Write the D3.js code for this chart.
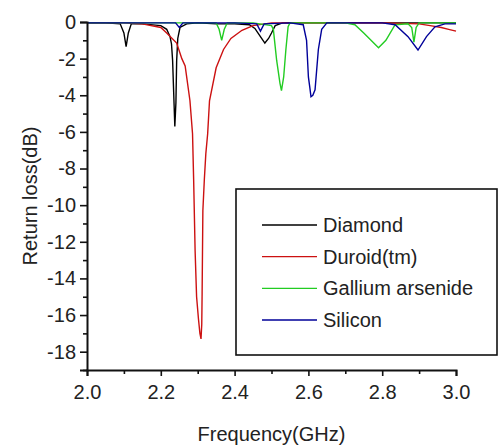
<!DOCTYPE html>
<html><head><meta charset="utf-8">
<script src="https://cdn.jsdelivr.net/npm/d3@7"></script>
<style>
body{margin:0;background:#fff;}
svg text{font-family:"Liberation Sans",Arial,sans-serif;fill:#222;}
</style></head>
<body><svg id="c" width="499" height="448"></svg>
<script>
// ---- data (frequency in GHz, return loss in dB) ----
const diamondFreq = [2.0,2.05,2.09,2.1,2.106,2.112,2.12,2.15,2.2,2.216,2.225,2.229,2.232,2.236,2.238,2.241,2.243,2.246,2.252,2.27,2.3,2.35,2.4,2.44,2.455,2.47,2.482,2.492,2.5,2.51,2.53,2.6,2.7,2.8,2.9,3.0];
const diamondVal  = [-0.05,-0.05,-0.1,-0.6,-1.35,-0.6,-0.1,-0.1,-0.2,-0.4,-0.8,-1.2,-2.1,-4.5,-5.7,-4.4,-2.1,-0.9,-0.3,-0.1,-0.05,-0.1,-0.1,-0.15,-0.35,-0.8,-1.15,-0.9,-0.6,-0.2,-0.05,-0.05,-0.05,-0.05,-0.05,-0.05];

const duroidFreq = [2.0,2.1,2.15,2.2,2.216,2.243,2.257,2.266,2.279,2.286,2.289,2.293,2.297,2.302,2.306,2.309,2.311,2.312,2.314,2.318,2.322,2.327,2.332,2.35,2.37,2.39,2.42,2.45,2.5,2.6,2.7,2.8,2.9,2.93,2.96,2.98,3.0];
const duroidVal  = [-0.05,-0.05,-0.1,-0.3,-0.6,-1.15,-2.0,-2.4,-4.3,-6.1,-8.6,-12.5,-15,-16.2,-17.0,-17.3,-16.5,-14.8,-10.3,-8.6,-7.2,-6.1,-4.3,-2.5,-1.5,-0.9,-0.45,-0.2,-0.05,-0.05,-0.05,-0.05,-0.1,-0.2,-0.3,-0.4,-0.5];

const galliumFreq = [2.0,2.1,2.2,2.3,2.35,2.358,2.365,2.372,2.38,2.45,2.5,2.505,2.514,2.523,2.527,2.533,2.539,2.545,2.55,2.6,2.7,2.726,2.75,2.79,2.81,2.835,2.87,2.88,2.886,2.892,2.9,3.0];
const galliumVal  = [-0.05,-0.05,-0.05,-0.05,-0.05,-0.4,-1.0,-0.4,-0.05,-0.05,-0.2,-0.4,-2.1,-3.35,-3.75,-3.0,-1.5,-0.25,-0.05,-0.05,-0.05,-0.15,-0.6,-1.4,-1.0,-0.15,-0.1,-0.3,-1.1,-0.3,-0.05,-0.05];

const siliconFreq = [2.0,2.1,2.24,2.25,2.26,2.4,2.46,2.47,2.48,2.55,2.586,2.595,2.6,2.604,2.607,2.612,2.618,2.627,2.636,2.65,2.8,2.835,2.87,2.897,2.92,2.943,2.97,3.0];
const siliconVal  = [-0.05,-0.05,-0.05,-0.3,-0.05,-0.05,-0.1,-0.5,-0.1,-0.05,-0.15,-1.0,-3.0,-3.6,-4.08,-4.0,-3.7,-1.5,-0.4,-0.05,-0.05,-0.15,-0.8,-1.53,-0.8,-0.26,-0.1,-0.1];

const seriesNames  = ["Diamond","Duroid(tm)","Gallium arsenide","Silicon"];
const seriesColors = ["#000000","#cc1111","#22cc22","#000099"];
const xTicks = [2.0,2.2,2.4,2.6,2.8,3.0];
const xMinor = [2.1,2.3,2.5,2.7,2.9];
const yTicks = [0,-2,-4,-6,-8,-10,-12,-14,-16,-18];
const yMinor = [-1,-3,-5,-7,-9,-11,-13,-15,-17,-19];

const series = [
  {name:seriesNames[0], color:seriesColors[0], f:diamondFreq, v:diamondVal},
  {name:seriesNames[1], color:seriesColors[1], f:duroidFreq, v:duroidVal},
  {name:seriesNames[2], color:seriesColors[2], f:galliumFreq, v:galliumVal},
  {name:seriesNames[3], color:seriesColors[3], f:siliconFreq, v:siliconVal}
];

const FS = 20;
const svg = d3.select("#c");
const L=87, R=456, T=22, B=370;
const x = d3.scaleLinear().domain([2.0,3.0]).range([L,R]);
const y = d3.scaleLinear().domain([-19,0]).range([B,T]);

const line = d3.line().x(d=>x(d[0])).y(d=>y(d[1]));
series.forEach(s=>{
  const pts = s.f.map((f,i)=>[f,s.v[i]]);
  svg.append("path").datum(pts).attr("d",line)
    .attr("fill","none").attr("stroke",s.color).attr("stroke-width",1.4);
});

// axes
const fmt = d3.format(".1f");
const gx = svg.append("g").attr("transform",`translate(0,${B})`)
  .call(d3.axisBottom(x).tickValues(xTicks).tickFormat(fmt).tickSize(6).tickPadding(9));
const gxm = svg.append("g").attr("transform",`translate(0,${B})`)
  .call(d3.axisBottom(x).tickValues(xMinor).tickFormat("").tickSize(4));
const gy = svg.append("g").attr("transform",`translate(${L},0)`)
  .call(d3.axisLeft(y).tickValues(yTicks).tickFormat(d=>String(d)).tickSize(7).tickPadding(4));
const gym = svg.append("g").attr("transform",`translate(${L},0)`)
  .call(d3.axisLeft(y).tickValues(yMinor).tickFormat("").tickSize(4));
[gx,gxm,gy,gym].forEach(g=>{
  g.select(".domain").attr("stroke","#111").attr("stroke-width",2);
  g.selectAll(".tick line").attr("stroke","#111").attr("stroke-width",1.6);
  g.selectAll("text").attr("font-size",FS).attr("fill","#222").attr("font-family",null);
});
gxm.select(".domain").remove(); gym.select(".domain").remove();

// axis titles
svg.append("text").attr("x",(L+R)/2).attr("y",441).attr("text-anchor","middle")
  .attr("font-size",FS).text("Frequency(GHz)");
svg.append("text").attr("transform",`translate(37,${(T+B)/2}) rotate(-90)`)
  .attr("text-anchor","middle").attr("font-size",FS).text("Return loss(dB)");

// legend
const lg = svg.append("g");
lg.append("rect").attr("x",236).attr("y",189).attr("width",261).attr("height",166)
  .attr("fill","#fff").attr("stroke","#111").attr("stroke-width",1.6);
const ly = d3.scalePoint().domain(seriesNames).range([225,320]);
series.forEach(s=>{
  lg.append("line").attr("x1",262).attr("x2",317).attr("y1",ly(s.name)).attr("y2",ly(s.name))
    .attr("stroke",s.color).attr("stroke-width",1.4);
  lg.append("text").attr("x",323).attr("y",ly(s.name)).attr("dy","0.35em")
    .attr("font-size",FS).text(s.name);
});
</script></body></html>
